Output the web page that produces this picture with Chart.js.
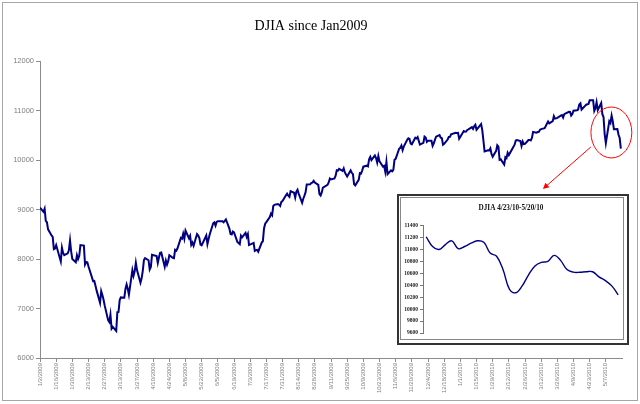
<!DOCTYPE html>
<html>
<head>
<meta charset="utf-8">
<script src="https://cdn.jsdelivr.net/npm/chart.js@4.4.0/dist/chart.umd.min.js"></script>
<style>
  html, body { margin: 0; padding: 0; background: #fff; }
  #wrap { position: relative; width: 640px; height: 404px; }
  #frame { position: absolute; left: 2px; top: 2px; width: 634px; height: 397px; border: 1px solid #a6a6a6; pointer-events: none; }
  #inset { position: absolute; left: 397px; top: 194px; width: 228px; height: 147px; border: 2px solid #333; background: #fff; }
  #insetInner { position: absolute; left: 1px; top: 1px; width: 222px; height: 141px; border: 1px solid #888; }
  #insetChart { position: absolute; left: -1px; top: -1px; }
</style>
</head>
<body>
<div id="wrap">
  <canvas id="mainChart" width="640" height="404"></canvas>
  <div id="frame"></div>
  <div id="inset"><div id="insetInner"><canvas id="insetChart" width="224" height="143"></canvas></div></div>
</div>
<script>
// Chart texts
const mainTitle = 'DJIA since Jan2009';
const insetTitle = 'DJIA 4/23/10-5/20/10';

// Daily closes (trading days, Jan 2009 - May 2010)
const tradeDates = [
  '2009-01-02','2009-01-05','2009-01-06','2009-01-07','2009-01-08','2009-01-09','2009-01-12','2009-01-13','2009-01-14','2009-01-15','2009-01-16','2009-01-20','2009-01-21','2009-01-22','2009-01-23','2009-01-26','2009-01-27','2009-01-28','2009-01-29','2009-01-30',
  '2009-02-02','2009-02-03','2009-02-04','2009-02-05','2009-02-06','2009-02-09','2009-02-10','2009-02-11','2009-02-12','2009-02-13','2009-02-17','2009-02-18','2009-02-19','2009-02-20','2009-02-23','2009-02-24','2009-02-25','2009-02-26','2009-02-27',
  '2009-03-02','2009-03-03','2009-03-04','2009-03-05','2009-03-06','2009-03-09','2009-03-10','2009-03-11','2009-03-12','2009-03-13','2009-03-16','2009-03-17','2009-03-18','2009-03-19','2009-03-20','2009-03-23','2009-03-24','2009-03-25','2009-03-26','2009-03-27','2009-03-30','2009-03-31',
  '2009-04-01','2009-04-02','2009-04-03','2009-04-06','2009-04-07','2009-04-08','2009-04-09','2009-04-13','2009-04-14','2009-04-15','2009-04-16','2009-04-17','2009-04-20','2009-04-21','2009-04-22','2009-04-23','2009-04-24','2009-04-27','2009-04-28','2009-04-29','2009-04-30',
  '2009-05-01','2009-05-04','2009-05-05','2009-05-06','2009-05-07','2009-05-08','2009-05-11','2009-05-12','2009-05-13','2009-05-14','2009-05-15','2009-05-18','2009-05-19','2009-05-20','2009-05-21','2009-05-22','2009-05-26','2009-05-27','2009-05-28','2009-05-29',
  '2009-06-01','2009-06-02','2009-06-03','2009-06-04','2009-06-05','2009-06-08','2009-06-09','2009-06-10','2009-06-11','2009-06-12','2009-06-15','2009-06-16','2009-06-17','2009-06-18','2009-06-19','2009-06-22','2009-06-23','2009-06-24','2009-06-25','2009-06-26','2009-06-29','2009-06-30',
  '2009-07-01','2009-07-02','2009-07-06','2009-07-07','2009-07-08','2009-07-09','2009-07-10','2009-07-13','2009-07-14','2009-07-15','2009-07-16','2009-07-17','2009-07-20','2009-07-21','2009-07-22','2009-07-23','2009-07-24','2009-07-27','2009-07-28','2009-07-29','2009-07-30','2009-07-31',
  '2009-08-03','2009-08-04','2009-08-05','2009-08-06','2009-08-07','2009-08-10','2009-08-11','2009-08-12','2009-08-13','2009-08-14','2009-08-17','2009-08-18','2009-08-19','2009-08-20','2009-08-21','2009-08-24','2009-08-25','2009-08-26','2009-08-27','2009-08-28','2009-08-31',
  '2009-09-01','2009-09-02','2009-09-03','2009-09-04','2009-09-08','2009-09-09','2009-09-10','2009-09-11','2009-09-14','2009-09-15','2009-09-16','2009-09-17','2009-09-18','2009-09-21','2009-09-22','2009-09-23','2009-09-24','2009-09-25','2009-09-28','2009-09-29','2009-09-30',
  '2009-10-01','2009-10-02','2009-10-05','2009-10-06','2009-10-07','2009-10-08','2009-10-09','2009-10-12','2009-10-13','2009-10-14','2009-10-15','2009-10-16','2009-10-19','2009-10-20','2009-10-21','2009-10-22','2009-10-23','2009-10-26','2009-10-27','2009-10-28','2009-10-29','2009-10-30',
  '2009-11-02','2009-11-03','2009-11-04','2009-11-05','2009-11-06','2009-11-09','2009-11-10','2009-11-11','2009-11-12','2009-11-13','2009-11-16','2009-11-17','2009-11-18','2009-11-19','2009-11-20','2009-11-23','2009-11-24','2009-11-25','2009-11-27','2009-11-30',
  '2009-12-01','2009-12-02','2009-12-03','2009-12-04','2009-12-07','2009-12-08','2009-12-09','2009-12-10','2009-12-11','2009-12-14','2009-12-15','2009-12-16','2009-12-17','2009-12-18','2009-12-21','2009-12-22','2009-12-23','2009-12-24','2009-12-28','2009-12-29','2009-12-30','2009-12-31',
  '2010-01-04','2010-01-05','2010-01-06','2010-01-07','2010-01-08','2010-01-11','2010-01-12','2010-01-13','2010-01-14','2010-01-15','2010-01-19','2010-01-20','2010-01-21','2010-01-22','2010-01-25','2010-01-26','2010-01-27','2010-01-28','2010-01-29',
  '2010-02-01','2010-02-02','2010-02-03','2010-02-04','2010-02-05','2010-02-08','2010-02-09','2010-02-10','2010-02-11','2010-02-12','2010-02-16','2010-02-17','2010-02-18','2010-02-19','2010-02-22','2010-02-23','2010-02-24','2010-02-25','2010-02-26',
  '2010-03-01','2010-03-02','2010-03-03','2010-03-04','2010-03-05','2010-03-08','2010-03-09','2010-03-10','2010-03-11','2010-03-12','2010-03-15','2010-03-16','2010-03-17','2010-03-18','2010-03-19','2010-03-22','2010-03-23','2010-03-24','2010-03-25','2010-03-26','2010-03-29','2010-03-30','2010-03-31',
  '2010-04-01','2010-04-05','2010-04-06','2010-04-07','2010-04-08','2010-04-09','2010-04-12','2010-04-13','2010-04-14','2010-04-15','2010-04-16','2010-04-19','2010-04-20','2010-04-21','2010-04-22','2010-04-23','2010-04-26','2010-04-27','2010-04-28','2010-04-29','2010-04-30',
  '2010-05-03','2010-05-04','2010-05-05','2010-05-06','2010-05-07','2010-05-10','2010-05-11','2010-05-12','2010-05-13','2010-05-14','2010-05-17','2010-05-18','2010-05-19','2010-05-20'
];
const djiaClose = [
  9035,8953,9015,8769,8742,8599,8474,8448,8200,8212,8281,7949,8228,8123,8077,8116,8175,8375,8149,8001,
  7936,8078,8000,8063,8281,8270,7889,7939,7933,7850,7553,7556,7466,7366,7115,7351,7271,7183,7063,
  6763,6726,6876,6594,6627,6547,6926,6930,7170,7224,7217,7395,7486,7400,7279,7776,7660,7750,7925,7776,7522,7609,
  7761,7978,8018,7975,7789,7837,8083,8058,7920,8029,8126,8131,7842,7969,7887,7957,8076,8025,8016,8185,8168,
  8212,8426,8410,8512,8409,8575,8419,8469,8285,8331,8268,8504,8475,8423,8292,8277,8473,8300,8404,8500,
  8721,8740,8675,8750,8764,8764,8763,8740,8770,8799,8613,8505,8497,8555,8539,8340,8323,8299,8472,8438,8529,8447,
  8504,8281,8325,8164,8179,8184,8147,8332,8359,8616,8712,8744,8848,8916,8882,9070,9093,9109,9097,9070,9155,9172,
  9286,9320,9280,9256,9370,9338,9242,9362,9399,9321,9136,9218,9280,9350,9506,9510,9539,9543,9580,9545,9497,
  9310,9281,9345,9442,9497,9547,9627,9606,9626,9683,9791,9784,9821,9779,9830,9748,9707,9666,9790,9742,9712,
  9509,9488,9599,9731,9726,9786,9865,9885,9871,10016,10063,9996,10093,10041,9949,10081,9972,9868,9883,9762,9962,9713,
  9789,9772,9802,10005,10023,10227,10247,10292,10198,10270,10407,10437,10426,10332,10318,10450,10434,10464,10310,10345,
  10472,10453,10367,10389,10390,10286,10337,10406,10471,10502,10452,10441,10309,10328,10414,10464,10467,10520,10548,10545,10548,10428,
  10584,10573,10574,10607,10618,10663,10628,10681,10711,10610,10726,10604,10390,10173,10196,10194,10236,10121,10067,
  10185,10297,10270,10003,10013,9908,10058,10038,10145,10099,10269,10309,10393,10403,10383,10282,10374,10321,10325,
  10404,10406,10396,10444,10567,10553,10564,10568,10611,10625,10643,10686,10734,10779,10742,10785,10888,10837,10841,10850,10895,10907,10857,
  10927,10974,10970,10898,10928,10997,11006,11019,11123,11145,11019,11093,11117,11125,11134,11205,11205,10991,11045,11168,11009,
  11152,10926,10868,10520,10340,10785,10749,10897,10782,10620,10625,10510,10444,10230
];

// Smoothed inset curve, sampled evenly across its width
const insetValues = [
  11212, 11050, 11000, 11083, 11145, 11013, 11050, 11105, 11146, 11120,
  10940, 10886, 10666, 10335, 10275, 10390, 10576, 10725, 10784, 10800,
  10902, 10818, 10663, 10620, 10618, 10627, 10627, 10541, 10478, 10390, 10240
];

// Axis settings
const startDate = '2009-01-02';
const tickStepDays = 14;
const lastTickDay = 490;
const mainYRange = [6000, 12000, 1000];
const insetYRange = [9600, 11400, 200];

// Callout: ellipse round the May 2010 drop and arrow toward the inset (in data units)
const calloutEllipse = { day: 494.8, value: 10556, rDays: 17.7, rValue: 515 };
const calloutArrow = { fromDay: 477, fromValue: 10263, toDay: 435.5, toValue: 9414 };

const DAY_MS = 86400000;
const t0 = Date.parse(startDate);
const mainPoints = tradeDates.map((d, i) => ({ x: (Date.parse(d) - t0) / DAY_MS, y: djiaClose[i] }));

function dayLabel(v) {
    const d = new Date(t0 + v * DAY_MS);
    return (d.getUTCMonth() + 1) + '/' + d.getUTCDate() + '/' + d.getUTCFullYear();
}

const calloutPlugin = {
    id: 'callout',
    afterDraw(chart) {
        const { ctx, scales: { x, y } } = chart;
        const cx = x.getPixelForValue(calloutEllipse.day);
        const cy = y.getPixelForValue(calloutEllipse.value);
        const rx = x.getPixelForValue(calloutEllipse.rDays) - x.getPixelForValue(0);
        const ry = y.getPixelForValue(0) - y.getPixelForValue(calloutEllipse.rValue);
        ctx.save();
        ctx.strokeStyle = '#ff0000';
        ctx.fillStyle = '#ff0000';
        ctx.lineWidth = 1;
        ctx.beginPath();
        ctx.ellipse(cx, cy, rx, ry, 0, 0, Math.PI * 2);
        ctx.stroke();

        const x1 = x.getPixelForValue(calloutArrow.fromDay), y1 = y.getPixelForValue(calloutArrow.fromValue);
        const x2 = x.getPixelForValue(calloutArrow.toDay), y2 = y.getPixelForValue(calloutArrow.toValue);
        const ang = Math.atan2(y2 - y1, x2 - x1);
        ctx.beginPath();
        ctx.moveTo(x1, y1);
        ctx.lineTo(x2 - 4 * Math.cos(ang), y2 - 4 * Math.sin(ang));
        ctx.stroke();
        ctx.beginPath();
        ctx.moveTo(x2, y2);
        ctx.lineTo(x2 - 6 * Math.cos(ang) + 3 * Math.sin(ang), y2 - 6 * Math.sin(ang) - 3 * Math.cos(ang));
        ctx.lineTo(x2 - 6 * Math.cos(ang) - 3 * Math.sin(ang), y2 - 6 * Math.sin(ang) + 3 * Math.cos(ang));
        ctx.closePath();
        ctx.fill();
        ctx.restore();
    }
};

// Main chart
new Chart(document.getElementById('mainChart'), {
    type: 'line',
    data: {
        datasets: [{
            data: mainPoints,
            borderColor: '#000080',
            borderWidth: 2,
            pointRadius: 0,
            tension: 0,
            fill: false
        }]
    },
    options: {
        responsive: false,
        animation: false,
        layout: { padding: { left: 0, right: 18, top: 0, bottom: 0 } },
        plugins: {
            legend: { display: false },
            tooltip: { enabled: false },
            title: {
                display: true,
                text: mainTitle,
                color: '#000',
                font: { family: '"Liberation Serif", "Times New Roman", serif', size: 14, weight: 'normal' },
                padding: { top: 18, bottom: 26.2 }
            }
        },
        scales: {
            x: {
                type: 'linear',
                min: 0,
                max: 504,
                afterFit: s => { s.height = 46; },
                afterBuildTicks: s => { s.ticks = s.ticks.filter(t => t.value <= lastTickDay); },
                ticks: {
                    stepSize: tickStepDays,
                    autoSkip: false,
                    minRotation: 90,
                    maxRotation: 90,
                    padding: 1,
                    color: '#808080',
                    font: { family: '"Liberation Sans", Arial, sans-serif', size: 6 },
                    callback: v => dayLabel(v)
                },
                grid: { drawOnChartArea: false, drawTicks: true, tickLength: 4, color: '#8c8c8c' },
                border: { display: true, color: '#8c8c8c' }
            },
            y: {
                min: mainYRange[0],
                max: mainYRange[1],
                afterFit: s => { s.width = 40; },
                ticks: {
                    stepSize: mainYRange[2],
                    padding: 2,
                    color: '#808080',
                    font: { family: '"Liberation Sans", Arial, sans-serif', size: 7.5 },
                    callback: v => String(v)
                },
                grid: { drawOnChartArea: false, drawTicks: true, tickLength: 4, color: '#8c8c8c' },
                border: { display: true, color: '#8c8c8c' }
            }
        }
    },
    plugins: [calloutPlugin]
});

// Inset chart
new Chart(document.getElementById('insetChart'), {
    type: 'line',
    data: {
        datasets: [{
            data: insetValues.map((v, i) => ({ x: i, y: v })),
            borderColor: '#000080',
            borderWidth: 1.4,
            pointRadius: 0,
            tension: 0.4,
            fill: false
        }]
    },
    options: {
        responsive: false,
        animation: false,
        layout: { padding: { left: 0, right: 2, top: 0, bottom: 7 } },
        plugins: {
            legend: { display: false },
            tooltip: { enabled: false },
            title: {
                display: true,
                text: insetTitle,
                color: '#111',
                font: { family: '"Liberation Serif", "Times New Roman", serif', size: 7.2, weight: 'bold', lineHeight: 1.2 },
                padding: { top: 6.5, bottom: 13.5 }
            }
        },
        scales: {
            x: {
                type: 'linear',
                display: false,
                min: -0.5,
                max: insetValues.length - 1 + 0.6
            },
            y: {
                min: insetYRange[0],
                max: insetYRange[1],
                afterFit: s => { s.width = 23; },
                ticks: {
                    stepSize: insetYRange[2],
                    padding: 2,
                    color: '#222',
                    font: { family: '"Liberation Serif", "Times New Roman", serif', size: 5.5, weight: 'bold' },
                    callback: v => String(v)
                },
                grid: { drawOnChartArea: false, drawTicks: true, tickLength: 3, color: '#777' },
                border: { display: true, color: '#777' }
            }
        }
    }
});
</script>
</body>
</html>
